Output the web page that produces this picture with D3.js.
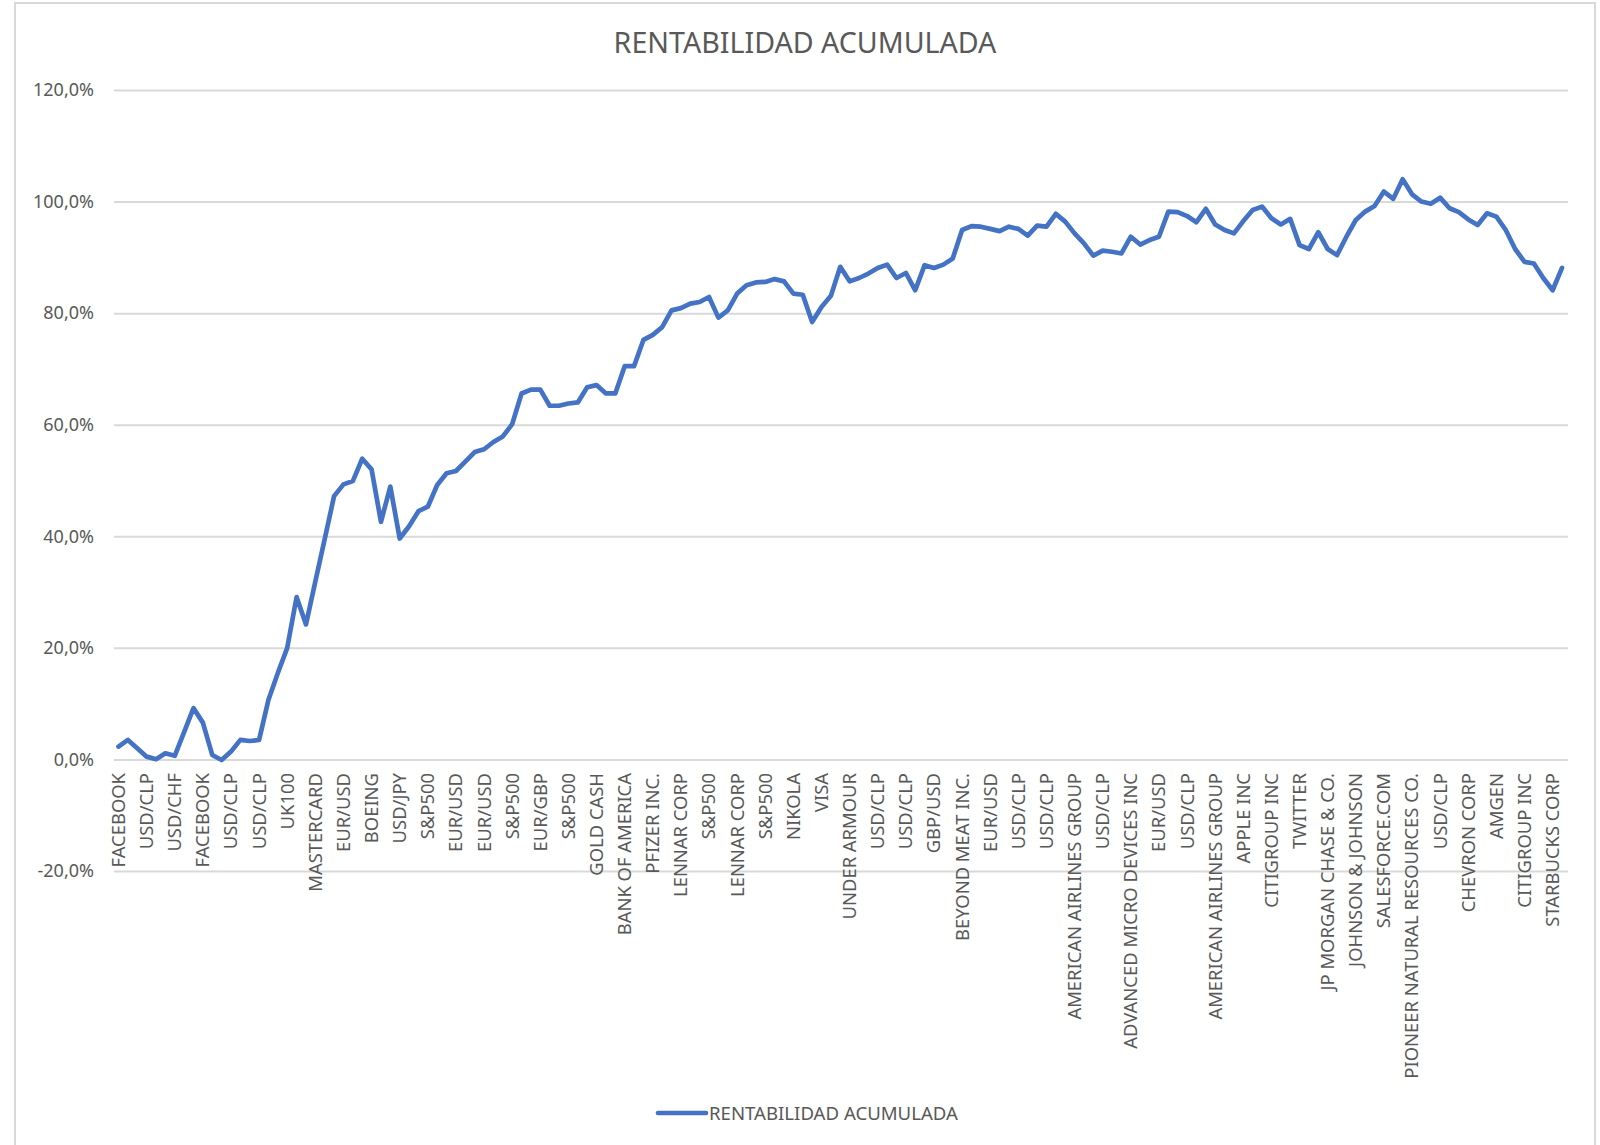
<!DOCTYPE html>
<html>
<head>
<meta charset="utf-8">
<script src="https://d3js.org/d3.v7.min.js"></script>
<style>
  body { margin: 0; background: #fff; }
  text { font-family: "Noto Sans", "Open Sans", sans-serif; fill: #595959; }
</style>
</head>
<body>
<div id="chart"></div>
<script>
// labels shown under the axis (one every 3 points)
var tickLabels = ["FACEBOOK", "USD/CLP", "USD/CHF", "FACEBOOK", "USD/CLP", "USD/CLP", "UK100",
  "MASTERCARD", "EUR/USD", "BOEING", "USD/JPY", "S&P500", "EUR/USD", "EUR/USD", "S&P500",
  "EUR/GBP", "S&P500", "GOLD CASH", "BANK OF AMERICA", "PFIZER INC.", "LENNAR CORP", "S&P500",
  "LENNAR CORP", "S&P500", "NIKOLA", "VISA", "UNDER ARMOUR", "USD/CLP", "USD/CLP", "GBP/USD",
  "BEYOND MEAT INC.", "EUR/USD", "USD/CLP", "USD/CLP", "AMERICAN AIRLINES GROUP", "USD/CLP",
  "ADVANCED MICRO DEVICES INC", "EUR/USD", "USD/CLP", "AMERICAN AIRLINES GROUP", "APPLE INC",
  "CITIGROUP INC", "TWITTER", "JP MORGAN CHASE & CO.", "JOHNSON & JOHNSON", "SALESFORCE.COM",
  "PIONEER NATURAL RESOURCES CO.", "USD/CLP", "CHEVRON CORP", "AMGEN", "CITIGROUP INC",
  "STARBUCKS CORP"];
var labelStep = 3;

// cumulative return, in %
var rentabilidad = [
  2.3, 3.5, 2.0, 0.5, 0.05, 1.1, 0.65, 4.9, 9.2, 6.6,
  0.8, -0.1, 1.4, 3.5, 3.3, 3.5, 10.7, 15.5, 20.0, 29.1,
  24.2, 31.9, 39.5, 47.2, 49.3, 49.9, 53.9, 52.0, 42.6, 48.9,
  39.6, 41.8, 44.5, 45.3, 49.2, 51.3, 51.7, 53.4, 55.1, 55.6,
  56.9, 57.9, 60.1, 65.6, 66.3, 66.3, 63.4, 63.4, 63.8, 64.0,
  66.7, 67.1, 65.6, 65.6, 70.5, 70.5, 75.2, 76.1, 77.5, 80.5,
  80.9, 81.7, 82.0, 82.9, 79.2, 80.5, 83.5, 85.0, 85.5, 85.6,
  86.1, 85.7, 83.5, 83.3, 78.4, 81.1, 83.1, 88.3, 85.7, 86.3,
  87.1, 88.1, 88.7, 86.3, 87.2, 84.1, 88.6, 88.1, 88.7, 89.8,
  94.9, 95.6, 95.5, 95.1, 94.7, 95.5, 95.1, 93.9, 95.7, 95.5,
  97.8, 96.4, 94.3, 92.5, 90.3, 91.2, 91.0, 90.7, 93.7, 92.3,
  93.1, 93.7, 98.2, 98.1, 97.4, 96.3, 98.7, 95.9, 94.9, 94.3,
  96.5, 98.5, 99.1, 97.0, 95.9, 96.9, 92.2, 91.5, 94.5, 91.5,
  90.4, 93.7, 96.7, 98.2, 99.2, 101.8, 100.5, 104.0, 101.3, 100.0,
  99.6, 100.7, 98.8, 98.1, 96.8, 95.8, 97.9, 97.3, 94.9, 91.5,
  89.2, 88.9, 86.3, 84.1, 88.1];

var yTicks = [-20, 0, 20, 40, 60, 80, 100, 120];
var seriesName = "RENTABILIDAD ACUMULADA";
var chartTitle = "RENTABILIDAD ACUMULADA";

var svgWidth = 1600;
var svgHeight = 1145;

var svg = d3.select("#chart")
  .append("svg")
  .attr("width", svgWidth)
  .attr("height", svgHeight);

// chart border
svg.append("rect")
  .attr("x", 15)
  .attr("y", 3)
  .attr("width", 1580)
  .attr("height", 1160)
  .attr("fill", "#fff")
  .attr("stroke", "#d9d9d9")
  .attr("stroke-width", 2);

var plotLeft = 114, plotRight = 1568;

// scales
var xScale = d3.scalePoint()
  .domain(d3.range(rentabilidad.length))
  .range([118.5, 1562]);

var yScale = d3.scaleLinear()
  .domain([-20, 120])
  .range([871, 90]);

var fmt = function(v) { return v.toFixed(1).replace(".", ",") + "%"; };

// gridlines + y labels
var yAxis = d3.axisLeft(yScale)
  .tickValues(yTicks)
  .tickSize(-(plotRight - plotLeft))
  .tickPadding(20)
  .tickFormat(fmt);

var yAxisG = svg.append("g")
  .attr("transform", `translate(${plotLeft}, 0)`)
  .call(yAxis);

yAxisG.select(".domain").remove();
yAxisG.selectAll("line")
  .attr("stroke", "#d9d9d9")
  .attr("stroke-width", 2);
yAxisG.selectAll("text")
  .attr("font-size", 18)
  .style("font-family", "'Noto Sans', sans-serif")
  .attr("fill", "#595959");

// category labels (rotated)
var xLabels = svg.append("g");
xLabels.selectAll("text")
  .data(tickLabels)
  .enter()
  .append("text")
  .attr("transform", (d, i) => `translate(${xScale(i * labelStep)}, 773) rotate(-90)`)
  .attr("text-anchor", "end")
  .attr("dy", "0.35em")
  .attr("font-size", 18.4)
  .text(d => d);

// the line
var line = d3.line()
  .x((d, i) => xScale(i))
  .y(d => yScale(d));

svg.append("path")
  .datum(rentabilidad)
  .attr("d", line)
  .attr("fill", "none")
  .attr("stroke", "#4472c4")
  .attr("stroke-width", 4.7)
  .attr("stroke-linejoin", "round")
  .attr("stroke-linecap", "round");

// title
svg.append("text")
  .attr("x", 805)
  .attr("y", 53)
  .attr("text-anchor", "middle")
  .attr("font-size", 28.6)
  .text(chartTitle);

// legend
var legend = svg.append("g");
legend.append("line")
  .attr("x1", 658)
  .attr("x2", 706)
  .attr("y1", 1113)
  .attr("y2", 1113)
  .attr("stroke", "#4472c4")
  .attr("stroke-width", 4.7)
  .attr("stroke-linecap", "round");
legend.append("text")
  .attr("x", 709)
  .attr("y", 1113)
  .attr("dy", "0.35em")
  .attr("font-size", 18.6)
  .text(seriesName);
</script>
</body>
</html>
